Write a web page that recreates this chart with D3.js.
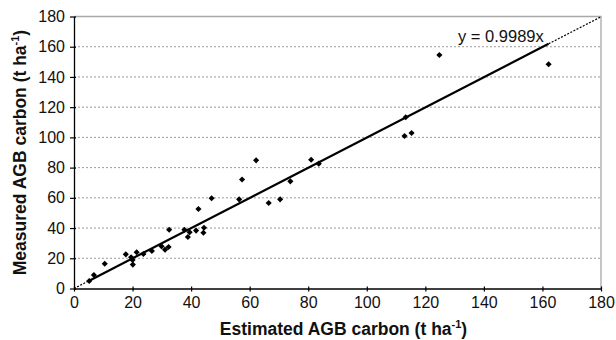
<!DOCTYPE html>
<html><head><meta charset="utf-8">
<script src="https://cdn.jsdelivr.net/npm/d3@7"></script>
<style>body{margin:0;background:#fff}svg{display:block}</style>
</head><body>
<svg id="c" width="616" height="340"></svg>
<script>
const estimated = [5.2,6.8,10.5,17.7,20.0,20.1,19.5,21.4,23.7,26.6,29.9,31.1,32.3,32.5,37.7,38.9,39.5,41.7,42.5,44.4,44.2,47.0,56.4,57.4,62.2,66.5,70.4,73.9,81.0,83.6,112.9,113.3,115.3,124.8,162.1];
const measured  = [5.0,8.9,16.4,22.6,18.9,15.8,20.6,24.0,22.8,24.8,27.9,25.7,27.5,38.9,38.9,34.1,37.2,38.3,52.6,40.2,36.9,59.7,59.0,72.1,84.8,56.6,59.0,70.9,85.2,82.6,100.9,113.3,102.9,154.5,148.4];
const slope = 0.9989;
const xTicks = [0,20,40,60,80,100,120,140,160,180];
const yTicks = [0,20,40,60,80,100,120,140,160,180];
const equationLabel = "y = 0.9989x";

const svg = d3.select("#c");
const m = {l:74, r:15, t:16.5, b:51.5};
const W = 616, H = 340;
const x = d3.scaleLinear().domain([0,180]).range([m.l, W-m.r]);
const y = d3.scaleLinear().domain([0,180]).range([H-m.b, m.t]);
const font = "'Liberation Sans', Arial, sans-serif";

// gridlines
svg.append("g").selectAll("line").data(yTicks.filter(d=>d>0&&d<180)).join("line")
  .attr("x1", x(0)).attr("x2", x(180)).attr("y1", d=>y(d)).attr("y2", d=>y(d))
  .attr("stroke","#9a9a9a").attr("stroke-width",1).attr("stroke-dasharray","2,2");
// top & right border
svg.append("path").attr("d", `M${x(0)},${y(180)}H${x(180)}V${y(0)}`)
  .attr("fill","none").attr("stroke","#a8a8a8").attr("stroke-width",1.3);

// axes
const xAxis = d3.axisBottom(x).tickValues(xTicks).tickSize(5).tickSizeOuter(0);
const yAxis = d3.axisLeft(y).tickValues(yTicks).tickSize(5).tickSizeOuter(0);
const gx = svg.append("g").attr("transform",`translate(0,${y(0)})`).call(xAxis);
const gy = svg.append("g").attr("transform",`translate(${x(0)},0)`).call(yAxis);
[gx,gy].forEach(g=>{
  g.select(".domain").attr("stroke","#000").attr("stroke-width",1.3);
  g.selectAll(".tick line").attr("stroke","#000").attr("stroke-width",1.2);
  g.selectAll(".tick text").attr("font-family",font).attr("font-size","16px").attr("fill","#111");
});
gx.selectAll(".tick line").attr("y1",-2).attr("y2",3);
gx.selectAll(".tick text").attr("dy","0.95em").attr("y",4);
gy.selectAll(".tick line").attr("x1",2).attr("x2",-4);
gy.selectAll(".tick text").attr("x",-9);

// trendline
const xmin = d3.min(estimated), xmax = d3.max(estimated);
svg.append("line").attr("x1",x(xmin)).attr("y1",y(slope*xmin)).attr("x2",x(xmax)).attr("y2",y(slope*xmax))
  .attr("stroke","#000").attr("stroke-width",2.2);
svg.append("line").attr("x1",x(0)).attr("y1",y(0)).attr("x2",x(xmin)).attr("y2",y(slope*xmin))
  .attr("stroke","#000").attr("stroke-width",1.2).attr("stroke-dasharray","2,1.5");
svg.append("line").attr("x1",x(xmax)).attr("y1",y(slope*xmax)).attr("x2",x(180)).attr("y2",y(slope*180))
  .attr("stroke","#000").attr("stroke-width",1.2).attr("stroke-dasharray","2,1.5");

// points
const pts = estimated.map((e,i)=>[e,measured[i]]);
svg.append("g").selectAll("path").data(pts).join("path")
  .attr("d", d3.symbol(d3.symbolDiamond2, 24))
  .attr("transform", d=>`translate(${x(d[0])},${y(d[1])})`)
  .attr("fill","#000");

// equation
svg.append("text").attr("x",458).attr("y",42).attr("font-family",font).attr("font-size","16.5px")
  .attr("fill","#111").text(equationLabel);

// axis titles
const xt = svg.append("text").attr("x",(x(0)+x(180))/2+6).attr("y",335).attr("text-anchor","middle")
  .attr("font-family",font).attr("font-size","17.5px").attr("font-weight","bold").attr("fill","#111");
xt.append("tspan").text("Estimated AGB carbon (t ha");
xt.append("tspan").attr("font-size","11px").attr("dy","-7").text("-1");
xt.append("tspan").attr("dy","7").text(")");

const yt = svg.append("text").attr("transform",`translate(26,${(y(0)+y(180))/2}) rotate(-90)`).attr("text-anchor","middle")
  .attr("font-family",font).attr("font-size","17.5px").attr("font-weight","bold").attr("fill","#111");
yt.append("tspan").text("Measured AGB carbon (t ha");
yt.append("tspan").attr("font-size","11px").attr("dy","-7").text("-1");
yt.append("tspan").attr("dy","7").text(")");
</script>
</body></html>
